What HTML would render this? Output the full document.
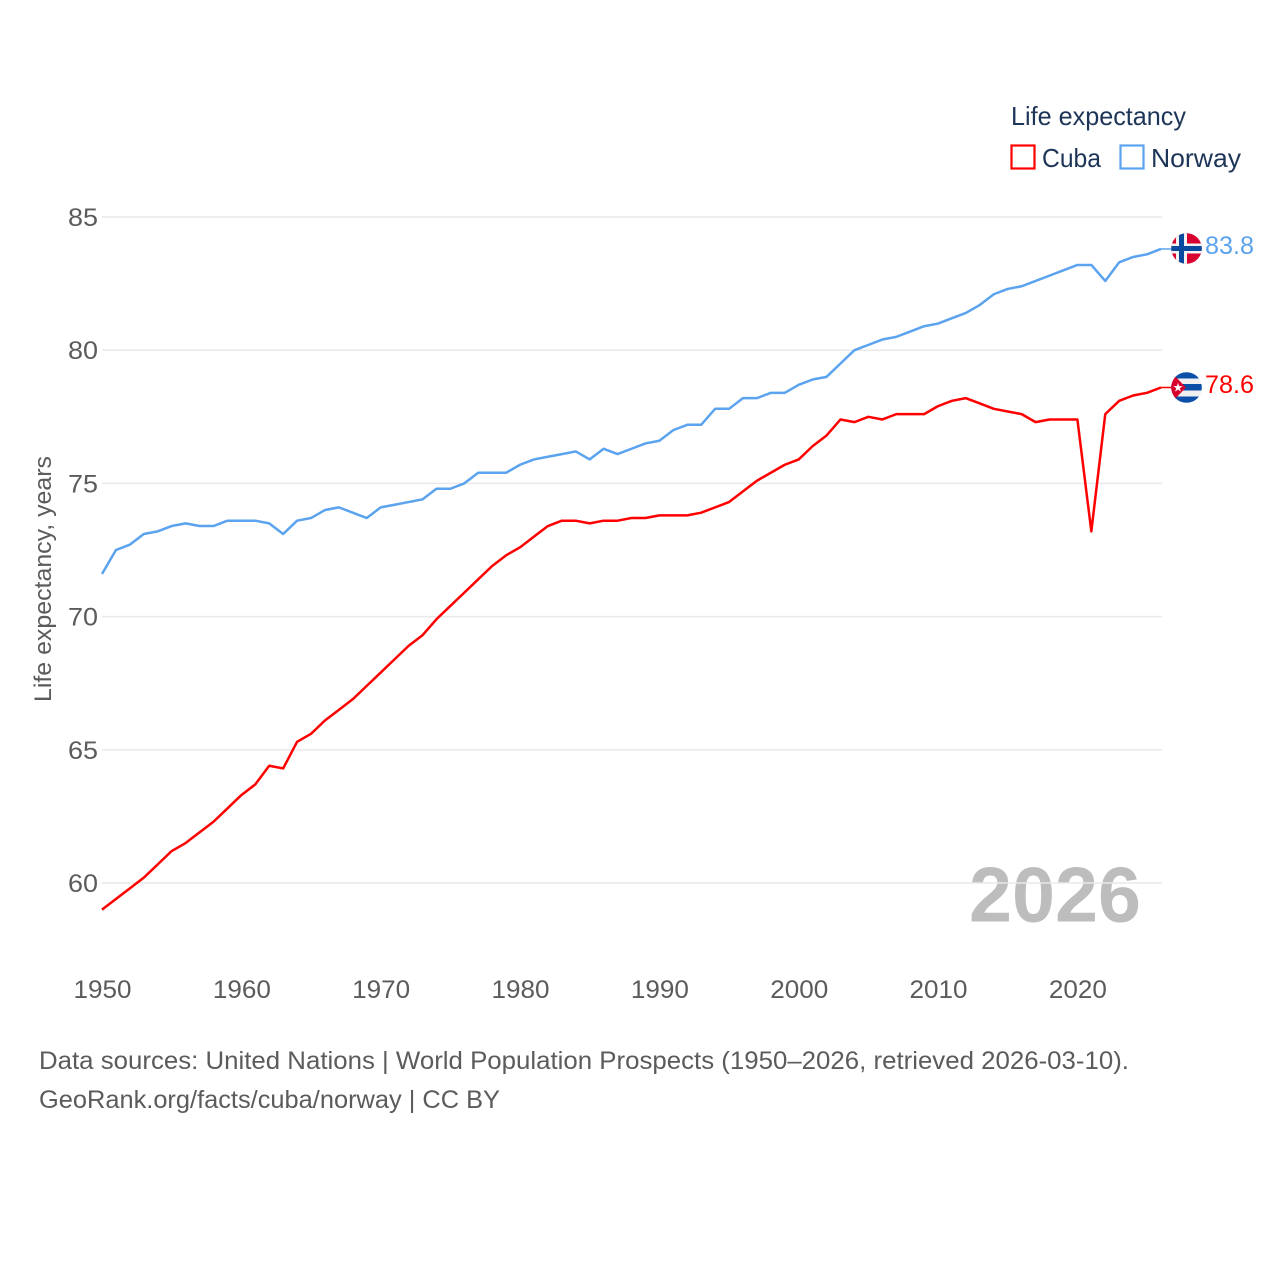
<!DOCTYPE html>
<html lang="en">
<head>
<meta charset="utf-8">
<title>Life expectancy: Cuba and Norway</title>
<style>
html,body{margin:0;padding:0;background:#fff;}
svg{display:block;font-family:"Liberation Sans",sans-serif;}
</style>
</head>
<body>
<svg id="chart" width="1280" height="1280" viewBox="0 0 1280 1280" xmlns="http://www.w3.org/2000/svg">
  <defs>
    <clipPath id="clip-no"><circle cx="1186.5" cy="248.5" r="15.3"></circle></clipPath>
    <clipPath id="clip-cu"><circle cx="1186.5" cy="387.5" r="15.3"></circle></clipPath>
  </defs>
  <rect x="0" y="0" width="1280" height="1280" fill="#fff"></rect>

  <text x="969" y="921.5" font-size="78" font-weight="700" fill="#bdbdbd" textLength="172" lengthAdjust="spacingAndGlyphs">2026</text>

  <g id="grid"></g>
  <g id="yticks"></g>
  <g id="xticks"></g>

  <text transform="translate(51,702) rotate(-90)" font-size="24" fill="#5b5b5b" textLength="246" lengthAdjust="spacingAndGlyphs">Life expectancy, years</text>

  <g id="series"></g>

  <g>
    <text x="1011" y="125" font-size="26" fill="#1d3557" textLength="175" lengthAdjust="spacingAndGlyphs">Life expectancy</text>
    <rect x="1011.5" y="145.5" width="23" height="23" fill="none" stroke="#ff0000" stroke-width="2.2"></rect>
    <text x="1042" y="167" font-size="26" fill="#1d3557" textLength="59" lengthAdjust="spacingAndGlyphs">Cuba</text>
    <rect x="1120.5" y="145.5" width="23" height="23" fill="none" stroke="#5ba3ee" stroke-width="2.2"></rect>
    <text x="1151" y="167" font-size="26" fill="#1d3557" textLength="90" lengthAdjust="spacingAndGlyphs">Norway</text>
  </g>

  <g clip-path="url(#clip-no)">
    <rect x="1171" y="233" width="31" height="31" fill="#d8002f"></rect>
    <rect x="1176" y="233" width="11" height="31" fill="#f2f2f2"></rect>
    <rect x="1171" y="243.5" width="31" height="10" fill="#f2f2f2"></rect>
    <rect x="1179" y="233" width="5" height="31" fill="#0a4a9e"></rect>
    <rect x="1171" y="246" width="31" height="5" fill="#0a4a9e"></rect>
  </g>
  <g clip-path="url(#clip-cu)">
    <rect x="1171" y="372" width="31" height="31" fill="#f0f0f0"></rect>
    <rect x="1171" y="372" width="31" height="6.5" fill="#0a4fa8"></rect>
    <rect x="1171" y="384" width="31" height="6.5" fill="#0a4fa8"></rect>
    <rect x="1171" y="396.5" width="31" height="6.5" fill="#0a4fa8"></rect>
    <polygon points="1171,372 1186,387.5 1171,403" fill="#d5002b"></polygon>
    <text x="1178" y="391.5" font-size="12" fill="#fff" text-anchor="middle">★</text>
  </g>

  <text x="1205" y="254" font-size="25" fill="#5ba3ee" textLength="49" lengthAdjust="spacingAndGlyphs">83.8</text>
  <text x="1205" y="393" font-size="25" fill="#ff0000" textLength="49" lengthAdjust="spacingAndGlyphs">78.6</text>

  <text x="39" y="1069" font-size="25" fill="#5b5b5b" textLength="1090" lengthAdjust="spacingAndGlyphs">Data sources: United Nations | World Population Prospects (1950–2026, retrieved 2026-03-10).</text>
  <a><text x="39" y="1108" font-size="25" fill="#5b5b5b" textLength="461" lengthAdjust="spacingAndGlyphs">GeoRank.org/facts/cuba/norway | CC BY</text></a>
</svg>
<script>
const years = [1950,1951,1952,1953,1954,1955,1956,1957,1958,1959,1960,1961,1962,1963,1964,1965,1966,1967,1968,1969,1970,1971,1972,1973,1974,1975,1976,1977,1978,1979,1980,1981,1982,1983,1984,1985,1986,1987,1988,1989,1990,1991,1992,1993,1994,1995,1996,1997,1998,1999,2000,2001,2002,2003,2004,2005,2006,2007,2008,2009,2010,2011,2012,2013,2014,2015,2016,2017,2018,2019,2020,2021,2022,2023,2024,2025,2026];
const norwayValues = [71.6,72.5,72.7,73.1,73.2,73.4,73.5,73.4,73.4,73.6,73.6,73.6,73.5,73.1,73.6,73.7,74.0,74.1,73.9,73.7,74.1,74.2,74.3,74.4,74.8,74.8,75.0,75.4,75.4,75.4,75.7,75.9,76.0,76.1,76.2,75.9,76.3,76.1,76.3,76.5,76.6,77.0,77.2,77.2,77.8,77.8,78.2,78.2,78.4,78.4,78.7,78.9,79.0,79.5,80.0,80.2,80.4,80.5,80.7,80.9,81.0,81.2,81.4,81.7,82.1,82.3,82.4,82.6,82.8,83.0,83.2,83.2,82.6,83.3,83.5,83.6,83.8];
const cubaValues = [59.0,59.4,59.8,60.2,60.7,61.2,61.5,61.9,62.3,62.8,63.3,63.7,64.4,64.3,65.3,65.6,66.1,66.5,66.9,67.4,67.9,68.4,68.9,69.3,69.9,70.4,70.9,71.4,71.9,72.3,72.6,73.0,73.4,73.6,73.6,73.5,73.6,73.6,73.7,73.7,73.8,73.8,73.8,73.9,74.1,74.3,74.7,75.1,75.4,75.7,75.9,76.4,76.8,77.4,77.3,77.5,77.4,77.6,77.6,77.6,77.9,78.1,78.2,78.0,77.8,77.7,77.6,77.3,77.4,77.4,77.4,73.2,77.6,78.1,78.3,78.4,78.6];
const yTickLabels = [60,65,70,75,80,85];
const xTickLabels = [1950,1960,1970,1980,1990,2000,2010,2020];

const NS = 'http://www.w3.org/2000/svg';
function xScale(year){ return 102 + (year - 1950) * (1161 - 102) / 76; }
function yScale(v){ return 883 - (v - 60) * (883 - 217) / 25; }
function make(tag, attrs){
  const el = document.createElementNS(NS, tag);
  for (const k in attrs) el.setAttribute(k, attrs[k]);
  return el;
}

const grid = document.getElementById('grid');
const yticks = document.getElementById('yticks');
yTickLabels.forEach(function(t){
  const line = make('line', {x1:102, x2:1162, y1:yScale(t), y2:yScale(t), stroke:'#e9e9e9', 'stroke-width':1.5});
  
  
  grid.appendChild(line);
  const label = make('text', {x:98, y:yScale(t) + 9, 'text-anchor':'end', 'font-size':25, fill:'#5b5b5b', textLength:30, lengthAdjust:'spacingAndGlyphs'});
  
  
  label.textContent = t;
  yticks.appendChild(label);
});

const xticks = document.getElementById('xticks');
xTickLabels.forEach(function(t){
  const label = make('text', {x:xScale(t) - 28.5, y:998, 'font-size':25, fill:'#5b5b5b', textLength:58, lengthAdjust:'spacingAndGlyphs'});
  
  
  label.textContent = t;
  xticks.appendChild(label);
});

function drawSeries(values, color, name){
  const g = document.getElementById('series');
  const pts = values.map(function(v, i){ return xScale(years[i]).toFixed(2) + ',' + yScale(v).toFixed(2); }).join(' ');
  const line = make('polyline', {points:pts, fill:'none', stroke:color, 'stroke-width':2.5, 'stroke-linejoin':'round'});
  
  
  g.appendChild(line);
  const last = values[values.length - 1];
  const lastX = xScale(years[years.length - 1]);
  const connector = make('line', {x1:lastX, x2:lastX + 11, y1:yScale(last), y2:yScale(last), stroke:color, 'stroke-width':1.5});
  
  
  g.appendChild(connector);
}
drawSeries(cubaValues, '#ff0000', 'cuba');
drawSeries(norwayValues, '#5ba3ee', 'norway');
</script>
</body>
</html>
